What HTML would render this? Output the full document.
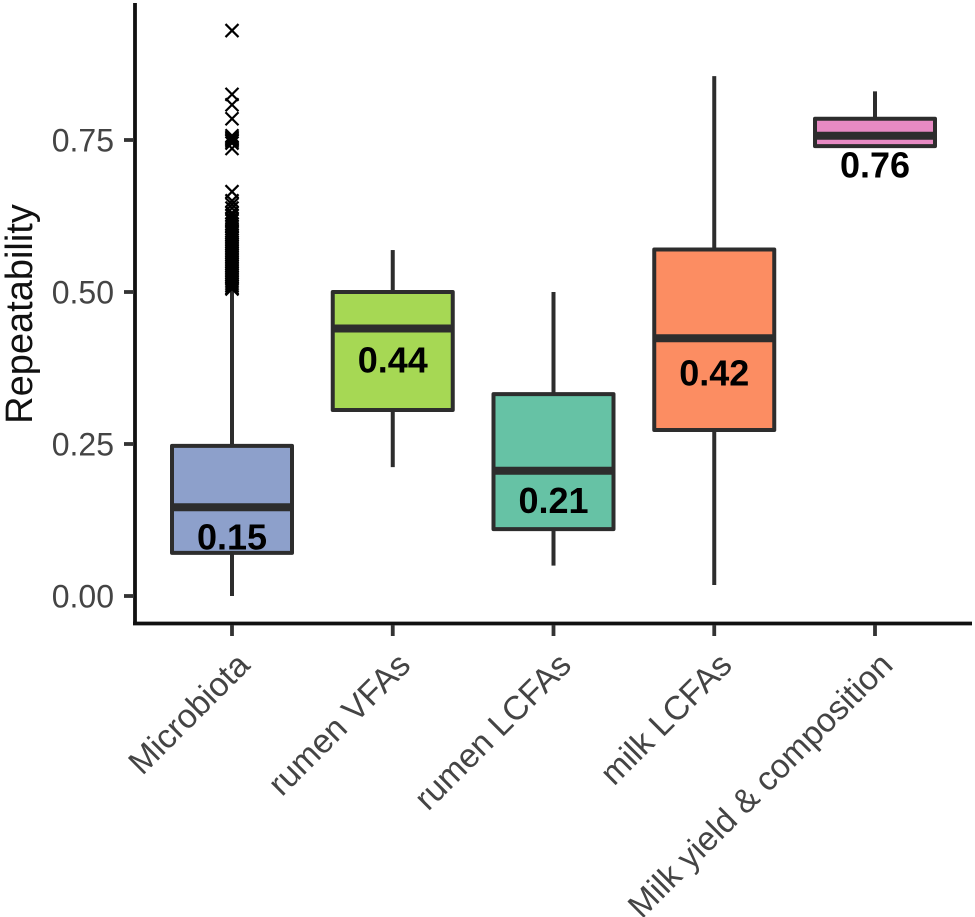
<!DOCTYPE html>
<html>
<head>
<meta charset="utf-8">
<title>Repeatability box plot</title>
<style>
html,body{margin:0;padding:0;background:#fff}
svg{display:block}
text{font-family:"Liberation Sans",Arial,sans-serif}
</style>
</head>
<body>
<svg id="chart" width="975" height="917" viewBox="0 0 975 917" xmlns="http://www.w3.org/2000/svg"></svg>
<script>
const categories = ["Microbiota", "rumen VFAs", "rumen LCFAs", "milk LCFAs", "Milk yield & composition"];
const q1Values = [0.071, 0.306, 0.110, 0.273, 0.740];
const medianValues = [0.146, 0.440, 0.206, 0.424, 0.757];
const q3Values = [0.247, 0.500, 0.332, 0.570, 0.785];
const whiskerLowValues = [0.000, 0.212, 0.050, 0.018, 0.740];
const whiskerHighValues = [0.505, 0.569, 0.500, 0.855, 0.830];
const medianLabels = ["0.15", "0.44", "0.21", "0.42", "0.76"];
const labelValues = [0.097, 0.388, 0.157, 0.367, 0.709];
const fillColors = ["#8da0cb", "#a6d854", "#66c2a5", "#fc8d62", "#e78ac3"];
const yTicks = [0, 0.25, 0.5, 0.75];
const yTickLabels = ["0.00", "0.25", "0.50", "0.75"];
const microbiotaOutliers = [0.930, 0.825, 0.808, 0.785, 0.757, 0.754, 0.752, 0.750, 0.748, 0.745, 0.736, 0.665, 0.650, 0.644, 0.638, 0.630, 0.626, 0.621, 0.617, 0.612, 0.608, 0.604, 0.600, 0.597, 0.594, 0.591, 0.588, 0.585, 0.582, 0.579, 0.576, 0.573, 0.570, 0.567, 0.564, 0.561, 0.558, 0.555, 0.552, 0.549, 0.546, 0.543, 0.540, 0.537, 0.534, 0.531, 0.528, 0.525, 0.522, 0.519, 0.516, 0.513, 0.510, 0.507, 0.505];

const NS = "http://www.w3.org/2000/svg";
const svg = document.getElementById("chart");
const xScale = i => 232 + i * 160.75;
const yScale = v => 596 - v * 608;
const BOX_HALF = 60;
const INK = "#2d2d2d";

function add(tag, attrs, parent, text) {
  const el = document.createElementNS(NS, tag);
  for (const k in attrs) el.setAttribute(k, attrs[k]);
  if (text !== undefined) el.textContent = text;
  (parent || svg).appendChild(el);
  return el;
}

// Axes
const yAxis = add("line", {x1: 135, x2: 135, y1: 3, y2: 625, stroke: "#111", "stroke-width": 3.8});


const xAxis = add("line", {x1: 133, x2: 972, y1: 623.5, y2: 623.5, stroke: "#111", "stroke-width": 3.8});



// Y ticks
yTicks.forEach((t, i) => {
  const tick = add("line", {x1: 124, x2: 134, y1: yScale(t), y2: yScale(t), stroke: "#333", "stroke-width": 3.8});
  
  
  const lab = add("text", {x: 114, y: yScale(t) + 11.5, "text-anchor": "end", "font-size": 32, fill: "#444"}, svg, yTickLabels[i]);
  
  
});

// Y title
const yTitle = add("text", {transform: "translate(32,314) rotate(-90)", "text-anchor": "middle", "font-size": 38, fill: "#111"}, svg, "Repeatability");



// X ticks and labels
categories.forEach((c, i) => {
  const x = xScale(i);
  const tick = add("line", {x1: x, x2: x, y1: 625, y2: 636, stroke: "#333", "stroke-width": 3.8});
  
  
  const lab = add("text", {transform: `translate(${x + 19.5},${667}) rotate(-45)`, "text-anchor": "end", "font-size": 33.5, fill: "#444"}, svg, c);
  
  
});

// Boxes
categories.forEach((c, i) => {
  const x = xScale(i);
  const g = add("g", {});
  
  
  const wh = add("line", {x1: x, x2: x, y1: yScale(whiskerHighValues[i]), y2: yScale(q3Values[i]), stroke: INK, "stroke-width": 4}, g);
  
  
  const wl = add("line", {x1: x, x2: x, y1: yScale(q1Values[i]), y2: yScale(whiskerLowValues[i]), stroke: INK, "stroke-width": 4}, g);
  
  
  const box = add("rect", {x: x - BOX_HALF, y: yScale(q3Values[i]), width: BOX_HALF * 2, height: yScale(q1Values[i]) - yScale(q3Values[i]), fill: fillColors[i], stroke: INK, "stroke-width": 4, "stroke-linejoin": "round"}, g);
  
  
  const med = add("line", {x1: x - BOX_HALF, x2: x + BOX_HALF, y1: yScale(medianValues[i]), y2: yScale(medianValues[i]), stroke: INK, "stroke-width": 8}, g);
  
  
  const lab = add("text", {x: x, y: yScale(labelValues[i]) + 12.5, "text-anchor": "middle", "font-size": 36, "font-weight": "bold", fill: "#000"}, g, medianLabels[i]);
  
  
});

// Outliers
const R = 6.5;
microbiotaOutliers.forEach(v => {
  const x = xScale(0), y = yScale(v);
  const m = add("path", {d: `M${x - R} ${y - R}L${x + R} ${y + R}M${x - R} ${y + R}L${x + R} ${y - R}`, stroke: "#000", "stroke-width": 2.2, fill: "none"});
  
  
});
</script>
</body>
</html>
